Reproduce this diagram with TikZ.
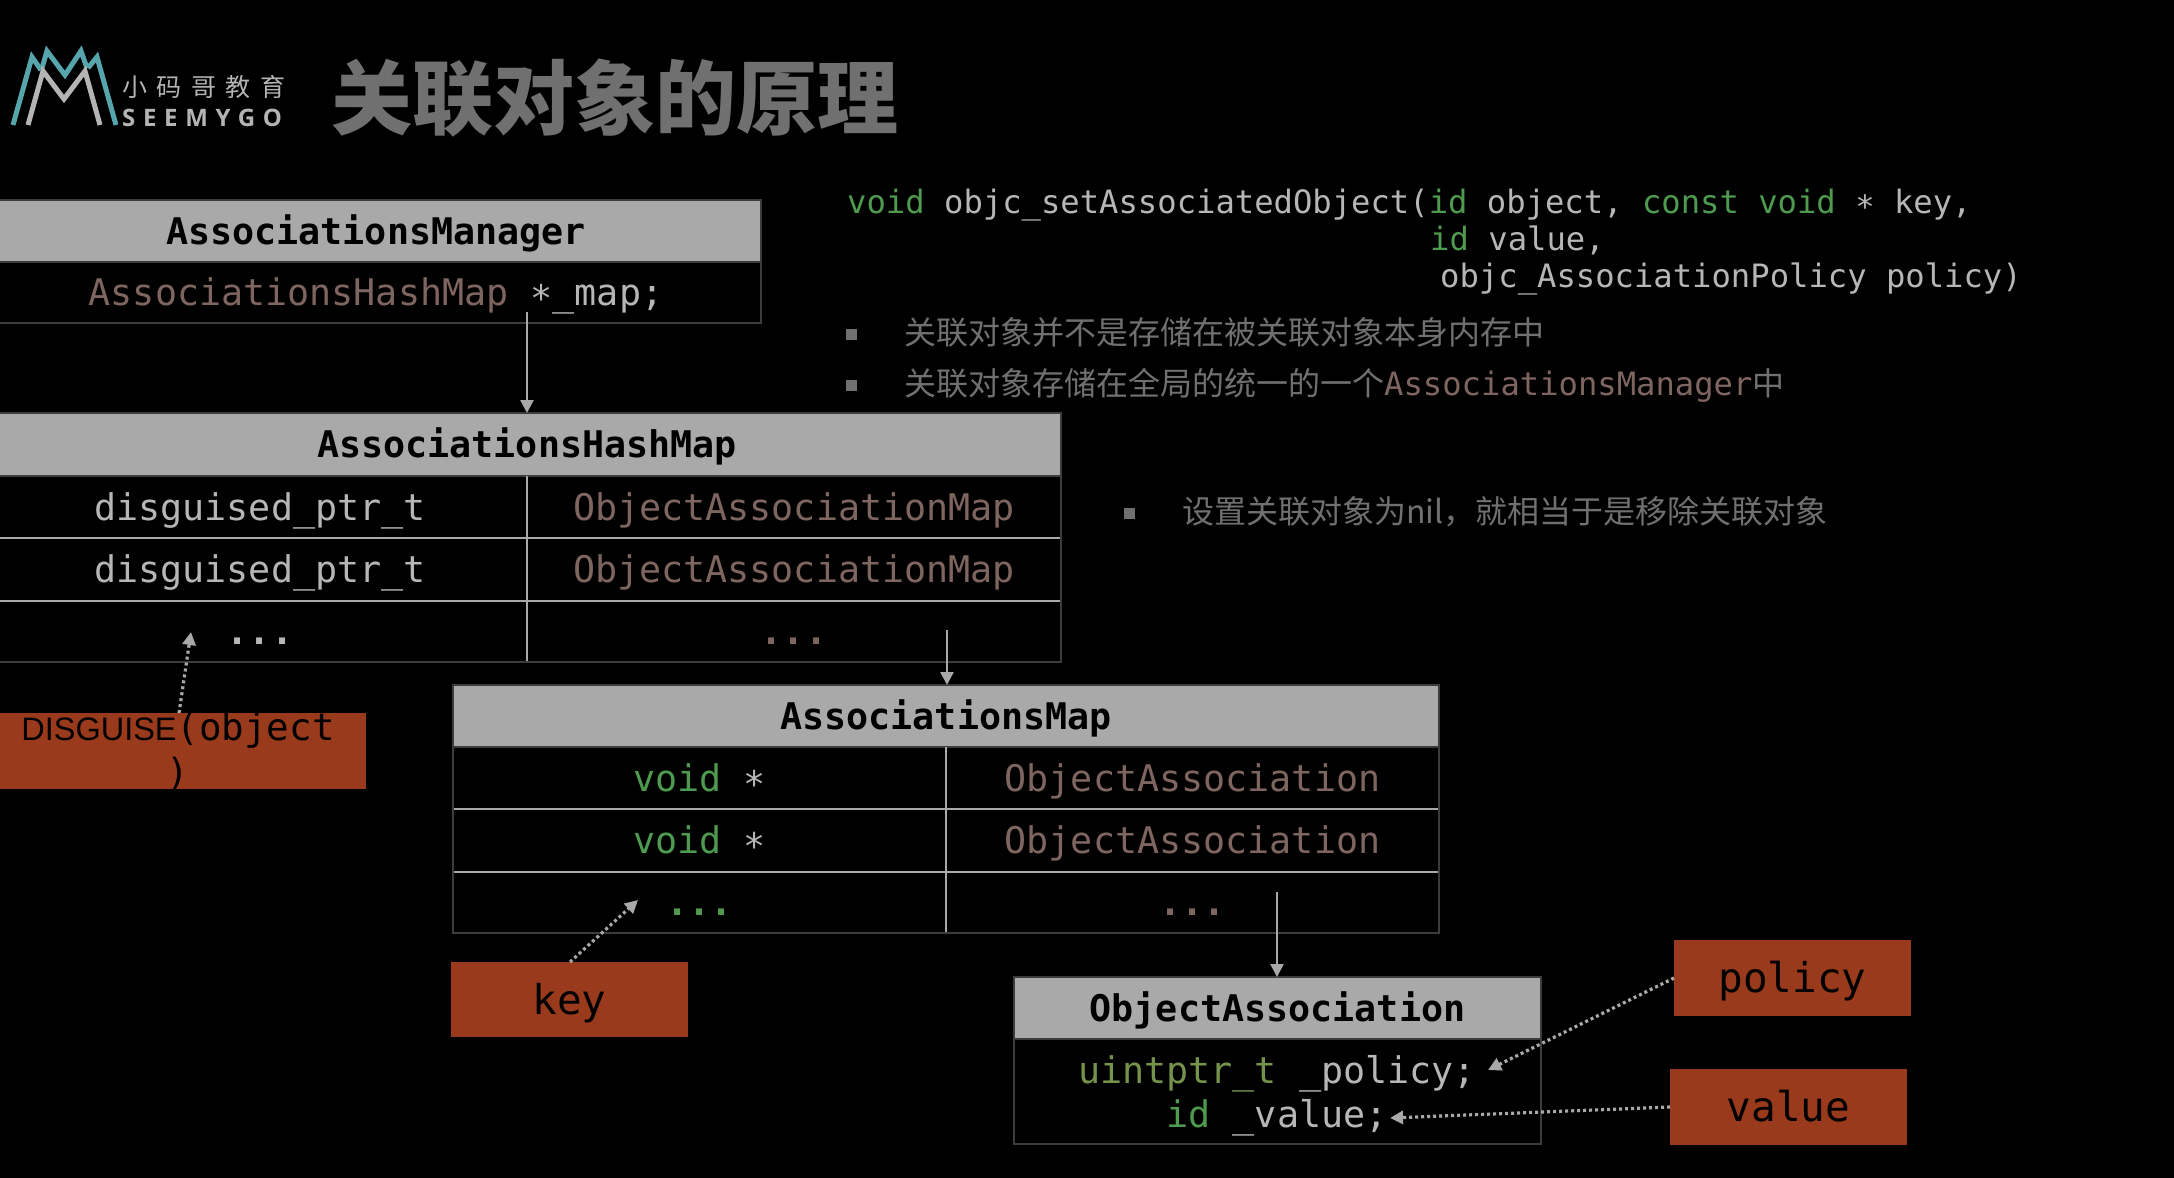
\documentclass[tikz,border=0pt]{standalone}
\usepackage{fontspec}
\usetikzlibrary{arrows.meta,calc}
\setmonofont{DejaVu Sans Mono}
\setmainfont{Liberation Sans}
\newfontfamily\cjk{Noto Sans CJK SC}
\newfontfamily\logofont[LetterSpace=32]{Open Sans}
\definecolor{hdr}{HTML}{A9A9A9}
\definecolor{edge}{HTML}{3C3C3C}
\definecolor{txt}{HTML}{B6B6B6}
\definecolor{brownc}{HTML}{7F6560}
\definecolor{greenc}{HTML}{4E9A4E}
\definecolor{olivec}{HTML}{76934C}
\definecolor{boxc}{HTML}{9A3A1C}
\definecolor{bul}{HTML}{707070}
\definecolor{teal}{HTML}{56A5AC}
\definecolor{logog}{HTML}{B4B4B4}
\newcommand\lowstar[1]{\raisebox{-#1pt}{*}}
\newcommand\boxdots{{\bfseries...}}
\newcommand\cellbox[7]{%
  \pgfmathsetmacro\cbx{(#2+#4)/2}\pgfmathsetmacro\cby{(#3+#5)/2}%
  \pgfmathsetmacro\cbw{#4-#2}\pgfmathsetmacro\cbh{#5-#3}%
  \node[cellbase,minimum width=\cbw pt,minimum height=\cbh pt,#6] (#1) at (\cbx,\cby) {#7};}
\tikzset{
  x=1pt,y=-1pt,
  cellbase/.style={inner sep=0pt,outer sep=0pt,rectangle,text height=33pt,text depth=7pt,font=\ttfamily\fontsize{36.7}{40}\selectfont,text=txt},
  header/.style={fill=hdr,draw=edge,line width=1.2pt,text=black,font=\ttfamily\bfseries\fontsize{36.7}{40}\selectfont},
  tag/.style={fill=boxc,text=black,font=\ttfamily\fontsize{41}{44}\selectfont,text height=37pt,text depth=8pt},
  rowline/.style={draw=hdr,line width=2pt},
  edgeline/.style={draw=edge,line width=1.2pt},
  solidarrow/.style={draw=hdr,line width=2.4pt,-{Triangle[length=13pt,width=13pt,fill=hdr]}},
  dotarrow/.style={draw=hdr,line width=3.2pt,dash pattern=on 3pt off 3pt,-{Triangle[length=13pt,width=13pt,fill=hdr,sep=0pt]}},
  codeline/.style={anchor=base west,inner sep=0pt,text=txt,font=\ttfamily\fontsize{32.2}{36}\selectfont},
  bullettext/.style={anchor=base west,inner sep=0pt,text=bul,font=\cjk\fontsize{32}{36}\selectfont},
  bulletmark/.style={fill=bul,inner sep=0pt,minimum width=11pt,minimum height=11pt},
  logoline/.style={line width=5pt,line join=miter,miter limit=10},
}
\begin{document}
\begin{tikzpicture}
\useasboundingbox (0,0) rectangle (2174,1178);
\clip (0,0) rectangle (2174,1178);
\fill[black] (0,0) rectangle (2174,1178);

% logo
\draw[logoline,teal] (13,125) -- (32,57) -- (41,70);
\draw[logoline,teal] (42,68) -- (47,51) -- (65,75) -- (81,51) -- (87,68);
\draw[logoline,teal] (88,68) -- (97,57) -- (116,125);
\draw[logoline,logog] (28,125) -- (43,71) -- (64,99) -- (85,71) -- (100,125);
\node[inner sep=0pt,anchor=west,text=logog,font=\cjk\fontsize{25}{26}\selectfont] (logocn) at (122,87) {小\hspace{9.5pt}码\hspace{9.5pt}哥\hspace{9.5pt}教\hspace{9.5pt}育};
\node[inner sep=0pt,anchor=base west,text=logog,font=\logofont\bfseries\fontsize{24}{26}\selectfont] (logoen) at (122,126) {SEEMYGO};
\node[inner sep=0pt,anchor=base west,text=bul,font=\cjk\bfseries\fontsize{81}{90}\selectfont] (title) at (331,128) {关联对象的原理};

% AssociationsManager
\cellbox{mgrh}{-9}{200}{761}{262}{header}{AssociationsManager}
\cellbox{mgrb}{-9}{262}{761}{323}{}{\textcolor{brownc}{AssociationsHashMap} \lowstar{6}\_map;}
\draw[edgeline] (mgrb.north east) -- (mgrb.south east) -- (mgrb.south west);

% AssociationsHashMap
\cellbox{hmh}{-7}{413}{1061}{476}{header}{AssociationsHashMap}
\cellbox{hma}{-7}{476}{527}{538}{}{disguised\_ptr\_t}
\cellbox{hmb}{527}{476}{1061}{538}{text=brownc}{ObjectAssociationMap}
\cellbox{hmc}{-7}{538}{527}{601}{}{disguised\_ptr\_t}
\cellbox{hmd}{527}{538}{1061}{601}{text=brownc}{ObjectAssociationMap}
\cellbox{hme}{-7}{601}{527}{662}{}{\boxdots}
\cellbox{hmf}{527}{601}{1061}{662}{text=brownc}{\boxdots}
\draw[rowline] (hma.south west) -- (hmb.south east);
\draw[rowline] (hmc.south west) -- (hmd.south east);
\draw[rowline] (hma.north east) -- (hme.south east);
\draw[edgeline] (hmb.north east) -- (hmf.south east) -- (hme.south west);

% AssociationsMap
\cellbox{amh}{453}{685}{1439}{747}{header}{AssociationsMap}
\cellbox{ama}{453}{747}{946}{809}{text=greenc}{void \textcolor{txt}{\lowstar{6}}}
\cellbox{amb}{946}{747}{1439}{809}{text=brownc}{ObjectAssociation}
\cellbox{amc}{453}{809}{946}{872}{text=greenc}{void \textcolor{txt}{\lowstar{6}}}
\cellbox{amd}{946}{809}{1439}{872}{text=brownc}{ObjectAssociation}
\cellbox{ame}{453}{872}{946}{933}{text=greenc}{\boxdots}
\cellbox{amf}{946}{872}{1439}{933}{text=brownc}{\boxdots}
\draw[rowline] (ama.south west) -- (amb.south east);
\draw[rowline] (amc.south west) -- (amd.south east);
\draw[rowline] (ama.north east) -- (ame.south east);
\draw[edgeline] (amb.north east) -- (amf.south east) -- (ame.south west) -- (ama.north west);

% ObjectAssociation
\cellbox{oah}{1014}{977}{1541}{1039}{header}{ObjectAssociation}
\cellbox{oab}{1014}{1039}{1541}{1144}{text height=0pt,text depth=0pt}{}
\draw[edgeline] (oab.north east) -- (oab.south east) -- (oab.south west) -- (oab.north west);
\node[anchor=base,inner sep=0pt,text=txt,font=\ttfamily\fontsize{36.7}{40}\selectfont] (oap) at (1277,1083) {\textcolor{olivec}{uintptr\_t} \_policy;};
\node[anchor=base,inner sep=0pt,text=txt,font=\ttfamily\fontsize{36.7}{40}\selectfont] (oav) at (1277,1127) {\textcolor{greenc}{id} \_value;};

% orange tags
\cellbox{disg}{-10}{713}{366}{789}{fill=boxc,text height=0pt,text depth=0pt}{}
\node[anchor=base,inner sep=0pt,text=black,font=\ttfamily\fontsize{37.5}{40}\selectfont] (disga) at (178,740) {{\rmfamily\fontsize{32.5}{36}\selectfont DISGUISE}(object};
\node[anchor=base,inner sep=0pt,text=black,font=\ttfamily\fontsize{37.5}{40}\selectfont] (disgb) at (178,785) {)};
\cellbox{key}{451}{962}{688}{1037}{tag}{key}
\cellbox{policy}{1674}{940}{1911}{1016}{tag}{policy}
\cellbox{value}{1670}{1069}{1907}{1145}{tag}{value}

% right column
\node[codeline] (c1) at (847,213) {\textcolor{greenc}{void} objc\_setAssociatedObject(\textcolor{greenc}{id} object, \textcolor{greenc}{const void} \lowstar{5} key,};
\node[codeline] (c2) at (1430,250) {\textcolor{greenc}{id} value,};
\node[codeline] (c3) at (1440,287) {objc\_AssociationPolicy policy)};
\node[bulletmark] (b1) at (851,334) {};
\node[bulletmark] (b2) at (851,385) {};
\node[bulletmark] (b3) at (1129,513) {};
\node[bullettext] (t1) at (904,344) {关联对象并不是存储在被关联对象本身内存中};
\node[bullettext] (t2) at (904,395) {关联对象存储在全局的统一的一个\textcolor{brownc}{\ttfamily\fontsize{32.2}{36}\selectfont AssociationsManager}中};
\node[bullettext] (t3) at (1182,523) {设置关联对象为nil，就相当于是移除关联对象};

% connectors
\coordinate (s1) at (527,312);
\coordinate (s2) at (947,630);
\coordinate (s3) at (1277,892);
\draw[solidarrow] (s1) -- (s1 |- hmh.north);
\draw[solidarrow] (s2) -- (s2 |- amh.north);
\draw[solidarrow] (s3) -- (s3 |- oah.north);
\coordinate (d1) at (191,632);
\coordinate (d1s) at (179,713);
\coordinate (d2) at (638,900);
\coordinate (d2s) at (570,962);
\coordinate (d3) at (1488,1070);
\coordinate (d3s) at (policy.west);
\coordinate (d4) at (1390,1118);
\coordinate (d4s) at (value.west);
\draw[dotarrow] (d1s) -- (d1);
\draw[dotarrow] (d2s) -- (d2);
\draw[dotarrow] (d3s) -- (d3);
\draw[dotarrow] (d4s) -- (d4);
\end{tikzpicture}
\end{document}
